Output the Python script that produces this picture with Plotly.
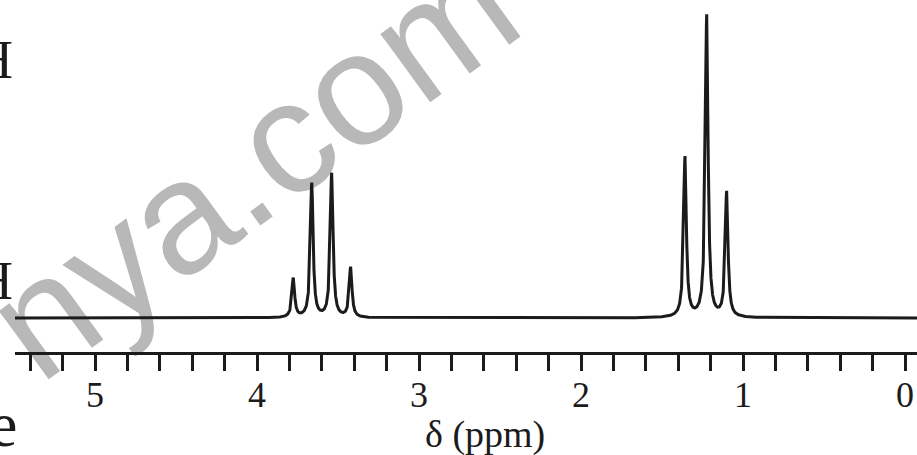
import numpy as np
import plotly.graph_objects as go

# Peak list (ppm, relative height in plot units)
quartet_ppm = [3.776, 3.662, 3.539, 3.422]
quartet_height = [39, 134, 144, 50]
triplet_ppm = [1.358, 1.224, 1.101]
triplet_height = [160, 302, 125]
linewidth_ppm = 0.010  # half width at half maximum of each line

tick_values = [0, 1, 2, 3, 4, 5]
tick_labels = ["0", "1", "2", "3", "4", "5"]
axis_title = "δ (ppm)"
left_texts = ["H", "H", "e"]
watermark = "nya.com"

W, H = 917, 455
ML, MR, MT, MB = 15, 0, 5, 103
PW, PH = W - ML - MR, H - MT - MB
SERIF = "Liberation Serif, Times New Roman, Times, serif"

def px(x):
    return (x - ML) / PW

def py(y):
    return (H - MB - y) / PH

ppm = np.arange(-0.1, 5.6, 0.0005)
inten = np.zeros_like(ppm)
for c, h in zip(quartet_ppm + triplet_ppm, quartet_height + triplet_height):
    inten += h * linewidth_ppm**2 / ((ppm - c) ** 2 + linewidth_ppm**2)

ink = "#1b1b1b"
fig = go.Figure()
fig.add_trace(go.Scatter(x=ppm, y=inten, mode="lines",
                         line=dict(color=ink, width=3), hoverinfo="skip",
                         showlegend=False))

fig.update_layout(
    width=W, height=H,
    margin=dict(l=ML, r=MR, t=MT, b=MB),
    paper_bgcolor="white", plot_bgcolor="white",
    font=dict(family=SERIF, color=ink),
    xaxis=dict(range=[(905 - ML) / 162, (905 - W) / 162],
               tickmode="array", tickvals=tick_values, ticktext=tick_labels,
               ticks="outside", ticklen=16, tickwidth=3, tickcolor=ink,
               showline=True, linewidth=3, linecolor=ink,
               showgrid=False, zeroline=False, ticklabelstandoff=-7,
               tickfont=dict(family=SERIF, size=36, color=ink),
               minor=dict(ticks="outside", ticklen=16, tickwidth=3,
                          tickcolor=ink, dtick=0.2, tick0=0, showgrid=False)),
    yaxis=dict(range=[-34, PH - 34], visible=False),
)

# watermark, drawn beneath the plot
fig.add_shape(type="rect", xref="paper", yref="paper",
              x0=px(243) - 0.001, x1=px(243) + 0.001,
              y0=py(151) - 0.001, y1=py(151) + 0.001,
              line=dict(width=0), layer="below",
              label=dict(text=watermark, textangle=-36,
                         textposition="middle center",
                         font=dict(family="Liberation Sans, Arial, sans-serif",
                                   size=160, color="#b8b8b8")))

fig.add_annotation(text=axis_title, xref="paper", yref="paper",
                   x=px(484.5), y=py(434.5), xanchor="center", yanchor="middle",
                   showarrow=False, borderpad=0,
                   font=dict(family=SERIF, size=38, color=ink))

for txt, (xr, yc, sz) in zip(left_texts, [(14, 60, 54), (14, 281, 54), (18, 424, 64)]):
    fig.add_annotation(text=txt, xref="paper", yref="paper",
                       x=px(xr), y=py(yc), xanchor="right", yanchor="middle",
                       showarrow=False, borderpad=0,
                       font=dict(family=SERIF, size=sz, color=ink))

fig.write_html("out.html", config={"displayModeBar": False},
               post_script="document.body.style.margin='0';"
                           "document.body.style.overflow='hidden';")
